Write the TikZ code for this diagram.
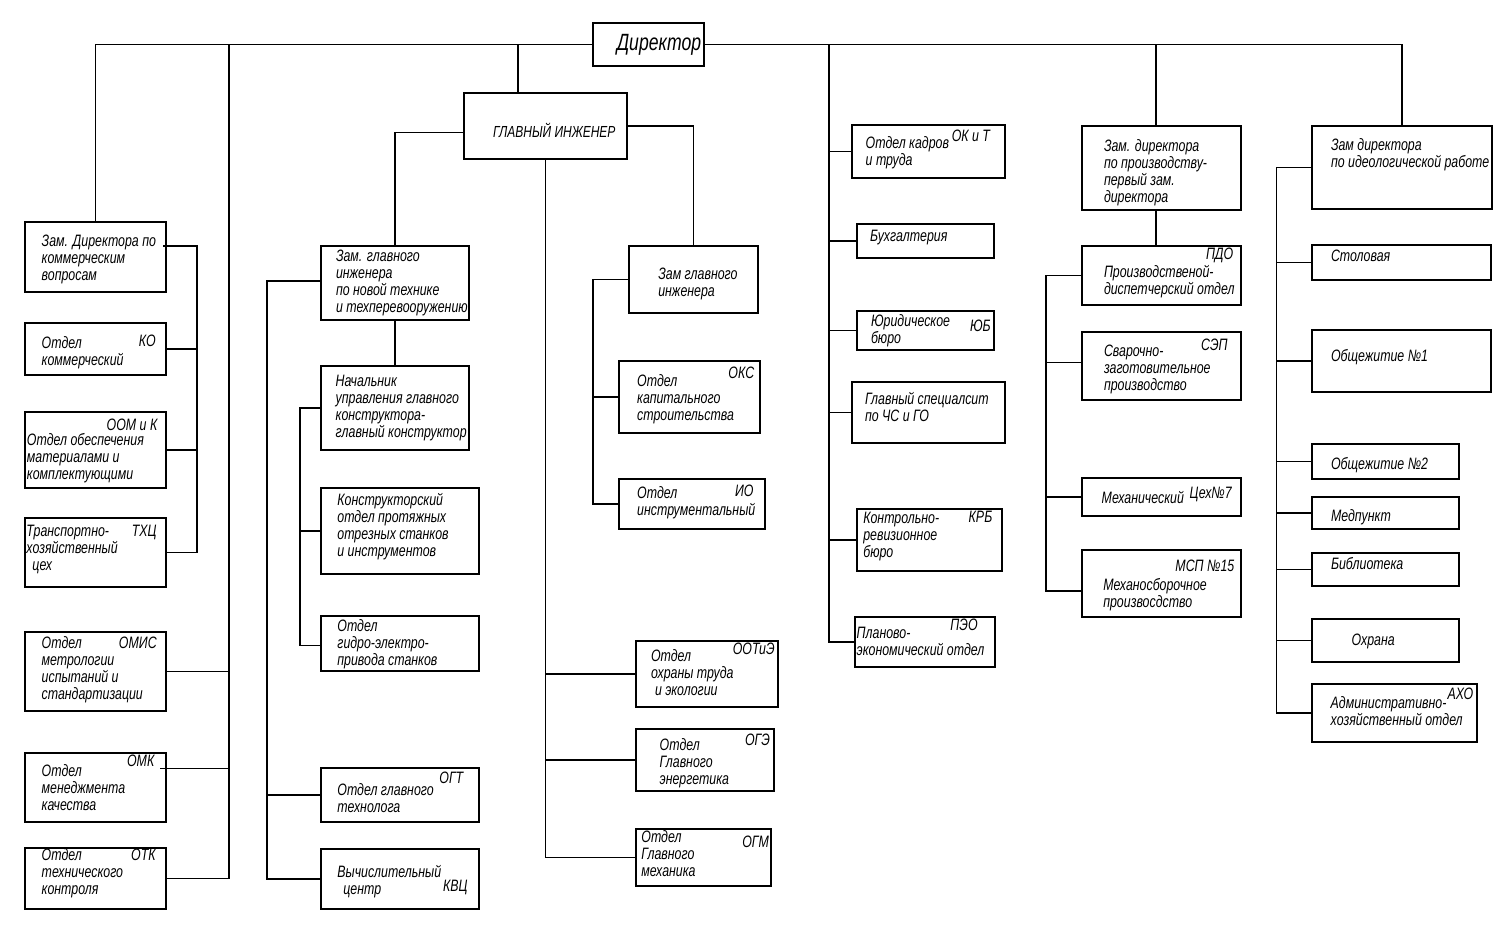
\documentclass[tikz,border=0pt]{standalone}
\usepackage{fontspec}
\setmainfont{Liberation Sans}[FakeStretch=0.75]
\usetikzlibrary{calc}
\tikzset{
  x=1pt, y=-1pt,
  box/.style={draw, line width=1.1pt, inner sep=0pt, outer sep=0pt},
  wire/.style={draw, line width=1.1pt},
  lbl/.style={inner sep=0pt, outer sep=0pt, align=left, font=\itshape\fontsize{16.5}{17}\selectfont},
}
\newcommand\bx[5]{\node[box, minimum width={(#4-#2)*1pt}, minimum height={(#5-#3)*1pt}] (#1) at ({(#2+#4)/2},{(#3+#5)/2}) {};}
\newcommand\tx[4]{\node[lbl, anchor=north west] (#1) at (#2,{#3-17}) {\rule{0pt}{17pt}#4};}
\newcommand\ab[4]{\node[lbl, anchor=north east, align=right] (#1) at (#2,{#3-17}) {\rule{0pt}{17pt}#4};}
\begin{document}
\begin{tikzpicture}
\useasboundingbox[fill=white] (0,0) rectangle (1505,952);
% boxes
\bx{dir}{593}{23}{704}{66}
\bx{gi}{464}{93}{627}{159}
\bx{zk}{25}{222}{166}{292}
\bx{ko}{25}{323}{166}{375}
\bx{oom}{25}{412}{166}{488}
\bx{txc}{25}{518}{166}{587}
\bx{omis}{25}{632}{166}{711}
\bx{omk}{25}{753}{166}{822}
\bx{otk}{25}{848}{166}{909}
\bx{zgn}{321}{246}{469}{320}
\bx{nach}{321}{366}{469}{450}
\bx{konst}{321}{488}{479}{574}
\bx{gidro}{321}{616}{479}{671}
\bx{ogt}{321}{768}{479}{822}
\bx{kvc}{321}{849}{479}{909}
\bx{zgr}{629}{246}{758}{313}
\bx{oks}{619}{361}{760}{433}
\bx{io}{619}{479}{765}{529}
\bx{ootie}{636}{641}{778}{707}
\bx{oge}{636}{729}{774}{791}
\bx{ogm}{636}{829}{771}{886}
\bx{okt}{852}{125}{1005}{178}
\bx{buh}{857}{224}{994}{258}
\bx{yub}{857}{311}{994}{350}
\bx{gs}{852}{382}{1005}{443}
\bx{krb}{857}{509}{1002}{571}
\bx{peo}{855}{617}{995}{667}
\bx{zdp}{1082}{126}{1241}{210}
\bx{pdo}{1082}{246}{1241}{305}
\bx{sep}{1082}{332}{1241}{400}
\bx{mex}{1082}{478}{1241}{516}
\bx{msp}{1082}{550}{1241}{617}
\bx{zdi}{1312}{126}{1492}{209}
\bx{stol}{1312}{245}{1491}{280}
\bx{ob1}{1312}{330}{1491}{392}
\bx{ob2}{1312}{444}{1459}{479}
\bx{med}{1312}{497}{1459}{529}
\bx{bib}{1312}{553}{1459}{586}
\bx{oxr}{1312}{619}{1459}{662}
\bx{axo}{1312}{684}{1477}{742}
% texts
\node[lbl, font=\itshape\fontsize{23.5}{25}\selectfont, anchor=base] (t-dir) at (659,51) {Директор};
\node[lbl, font=\itshape\fontsize{16}{17}\selectfont, anchor=base west] (t-gi) at (493,137.5) {ГЛАВНЫЙ ИНЖЕНЕР};
\tx{t-zk}{41.7}{246.7}{Зам. Директора по\\коммерческим\\вопросам}
\tx{t-ko}{41.7}{348.3}{Отдел\\коммерческий}
\ab{a-ko}{155.7}{346}{КО}
\ab{a-oom}{157.3}{430}{ООМ и К}
\tx{t-oom}{27}{445.7}{Отдел обеспечения\\материалами и\\комплектующими}
\tx{t-txc}{26.5}{536.7}{Транспортно-\\хозяйственный\\\hspace{6pt}цех}
\ab{a-txc}{156.7}{536.7}{ТХЦ}
\tx{t-omis}{41.7}{648.3}{Отдел\\метрологии\\испытаний и\\стандартизации}
\ab{a-omis}{156.7}{648.3}{ОМИС}
\ab{a-omk}{154.3}{766.7}{ОМК}
\tx{t-omk}{41.7}{776.7}{Отдел\\менеджмента\\качества}
\tx{t-otk}{41.7}{860}{Отдел\\технического\\контроля}
\ab{a-otk}{155.7}{860}{ОТК}
\tx{t-zgn}{336}{261.7}{Зам. главного\\инженера\\по новой технике\\и техперевооружению}
\tx{t-zgr}{658.3}{279.3}{Зам главного\\инженера}
\tx{t-nach}{335.7}{386.7}{Начальник\\управления главного\\конструктора-\\главный конструктор}
\tx{t-konst}{337.4}{505}{Конструкторский\\отдел протяжных\\отрезных станков\\и инструментов}
\tx{t-gidro}{337.4}{631.7}{Отдел\\гидро-электро-\\привода станков}
\ab{a-oks}{754.2}{378.3}{ОКС}
\tx{t-oks}{637.2}{386.7}{Отдел\\капитального\\строительства}
\tx{t-io}{637.2}{498.3}{Отдел\\инструментальный}
\ab{a-io}{753.5}{496.7}{ИО}
\ab{a-ootie}{774.7}{654}{ООТиЭ}
\tx{t-ootie}{651}{661.7}{Отдел\\охраны труда\\\hspace{4pt}и экологии}
\ab{a-oge}{770}{745}{ОГЭ}
\tx{t-oge}{659.7}{750}{Отдел\\Главного\\энергетика}
\tx{t-ogm}{641.4}{842.7}{Отдел\\Главного\\механика}
\ab{a-ogm}{769}{847.7}{ОГМ}
\ab{a-ogt}{463.3}{783.3}{ОГТ}
\tx{t-ogt}{337.4}{795}{Отдел главного\\технолога}
\tx{t-kvc}{337.4}{877.7}{Вычислительный\\\hspace{6pt}центр}
\ab{a-kvc}{467.6}{891.7}{КВЦ}
\tx{t-okt}{865.7}{148.3}{Отдел кадров\\и труда}
\ab{a-okt}{990}{141.7}{ОК и Т}
\tx{t-buh}{870}{241.7}{Бухгалтерия}
\tx{t-yub}{871}{326.7}{Юридическое\\бюро}
\ab{a-yub}{990.7}{331.7}{ЮБ}
\tx{t-gs}{865}{404.3}{Главный специалсит\\по ЧС и ГО}
\tx{t-krb}{863.3}{523.3}{Контрольно-\\ревизионное\\бюро}
\ab{a-krb}{992.3}{522.7}{КРБ}
\ab{a-peo}{977.7}{630}{ПЭО}
\tx{t-peo}{856.7}{638.3}{Планово-\\экономический отдел}
\tx{t-zdp}{1104}{151.7}{Зам. директора\\по производству-\\первый зам.\\директора}
\ab{a-pdo}{1233.3}{260}{ПДО}
\tx{t-pdo}{1104}{277.3}{Производственой-\\диспетчерский отдел}
\ab{a-sep}{1227.7}{350.7}{СЭП}
\tx{t-sep}{1104}{356.7}{Сварочно-\\заготовительное\\производство}
\tx{t-mex}{1101.7}{503.3}{Механический}
\ab{a-mex}{1231.7}{498.3}{Цех№7}
\ab{a-msp}{1234.3}{571}{МСП №15}
\tx{t-msp}{1103.3}{590}{Механосборочное\\произвосдство}
\tx{t-zdi}{1331}{151}{Зам директора\\по идеологической работе}
\tx{t-stol}{1331}{261.7}{Столовая}
\tx{t-ob1}{1331}{361}{Общежитие №1}
\tx{t-ob2}{1331}{469.3}{Общежитие №2}
\tx{t-med}{1331}{521.7}{Медпункт}
\tx{t-bib}{1331}{569}{Библиотека}
\tx{t-oxr}{1351.7}{645.7}{Охрана}
\ab{a-axo}{1473.3}{699}{АХО}
\tx{t-axo}{1330.7}{708.3}{Административно-\\хозяйственный отдел}
% connectors: top bus
\draw[wire] (zk.north) |- (dir.west);
\draw[wire] (dir.east) -| (zdi.north);
\draw[wire] ($(gi.north west)+(54,0)$) |- (dir.west);
\draw[wire] ($(zdp.north west)+(74,0)$) |- (dir.east);
% left outer bus
\coordinate (busL) at (229,44.5);
\draw[wire] (busL) |- (otk.east);
\draw[wire] (omis.east) -- (omis.east -| busL);
\coordinate (omkC) at ($(omk.north east)+(-6,15.5)$);
\draw[wire] (omkC) -- (omkC -| busL);
% left inner bus
\coordinate (zkC) at ($(zk.north east)+(-3,24)$);
\coordinate (kbus) at ($(txc.east)+(31,0)$);
\draw[wire] (zkC) -| (kbus) -- (txc.east);
\draw[wire] (ko.east) -- (ko.east -| kbus);
\draw[wire] (oom.east) -- (oom.east -| kbus);
% chief engineer
\coordinate (giL) at ($(gi.west)+(0,6.7)$);
\draw[wire] (giL) -| (zgn.north);
\draw[wire] (gi.east) -| (zgr.north);
\draw[wire] (gi.south) |- (ogm.west);
\draw[wire] (ootie.west) -- (ootie.west -| gi.south);
\draw[wire] (oge.west) -- (oge.west -| gi.south);
% deputy chief engineer (new technology)
\coordinate (zgnC) at ($(zgn.west)+(0,-2)$);
\coordinate (zgnV) at ($(zgnC)+(-54,0)$);
\draw[wire] (zgnC) -- (zgnV) |- (kvc.west);
\draw[wire] (ogt.west) -- (ogt.west -| zgnV);
\draw[wire] (zgn.south) -- (nach.north);
\coordinate (nV) at ($(nach.west)+(-21,0)$);
\draw[wire] (nach.west) -- (nV) |- ($(gidro.west)+(0,1.7)$);
\draw[wire] (konst.west) -- (konst.west -| nV);
% deputy chief engineer (right)
\coordinate (gV) at ($(zgr.west)+(-36,0)$);
\draw[wire] (zgr.west) -- (gV) |- (io.west);
\draw[wire] (oks.west) -- (oks.west -| gV);
% director's departments
\coordinate (busR) at (829,44.5);
\draw[wire] (busR) |- (peo.west);
\draw[wire] (okt.west) -- (okt.west -| busR);
\draw[wire] (buh.west) -- (buh.west -| busR);
\draw[wire] (yub.west) -- (yub.west -| busR);
\draw[wire] (gs.west) -- (gs.west -| busR);
\draw[wire] (krb.west) -- (krb.west -| busR);
% production deputy
\draw[wire] ($(zdp.south west)+(74,0)$) -- ($(pdo.north west)+(74,0)$);
\coordinate (pV) at ($(pdo.west)+(-36,0)$);
\draw[wire] (pdo.west) -- (pV) |- ($(msp.west)+(0,7.5)$);
\coordinate (sepC) at ($(sep.west)+(0,-3.5)$);
\draw[wire] (sepC) -- (sepC -| pV);
\draw[wire] (mex.west) -- (mex.west -| pV);
% ideology deputy
\coordinate (iV) at ($(zdi.west)+(-35.5,0)$);
\draw[wire] (zdi.west) -- (iV) |- (axo.west);
\draw[wire] (stol.west) -- (stol.west -| iV);
\draw[wire] (ob1.west) -- (ob1.west -| iV);
\draw[wire] (ob2.west) -- (ob2.west -| iV);
\draw[wire] (med.west) -- (med.west -| iV);
\draw[wire] (bib.west) -- (bib.west -| iV);
\draw[wire] (oxr.west) -- (oxr.west -| iV);
\end{tikzpicture}
\end{document}
